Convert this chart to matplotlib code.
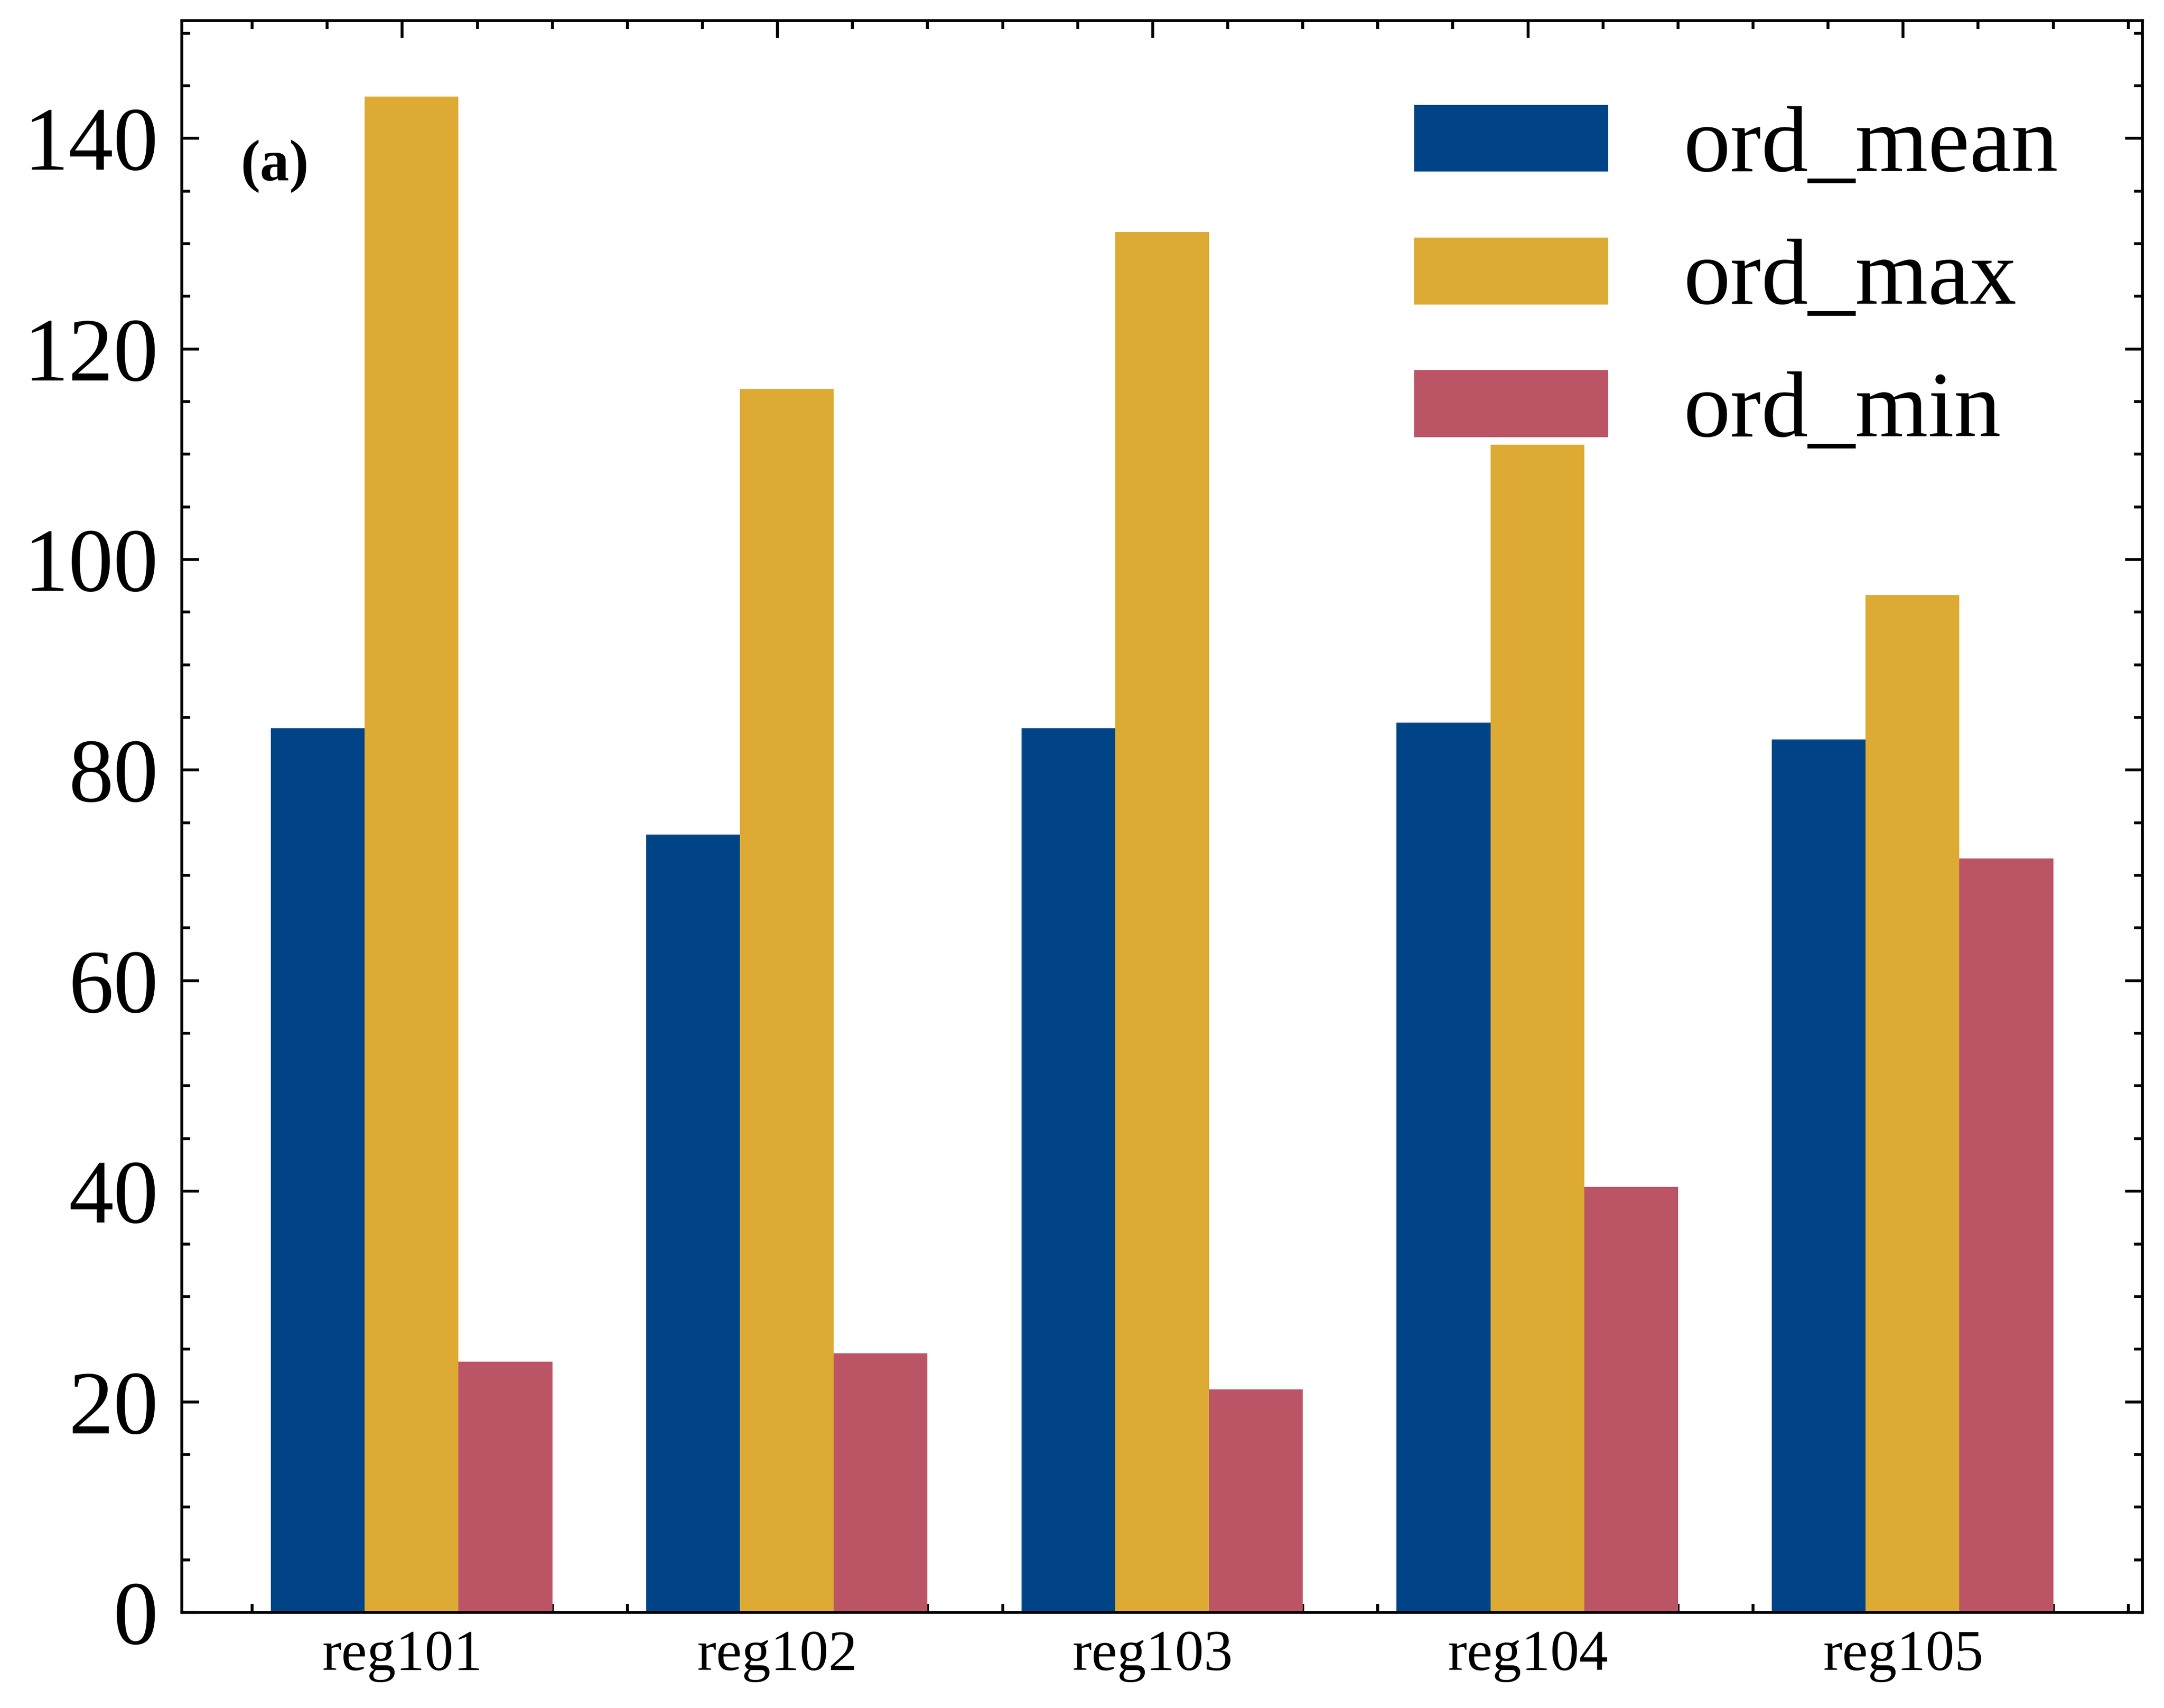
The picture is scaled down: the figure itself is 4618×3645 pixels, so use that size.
import numpy as np
import matplotlib
matplotlib.use("Agg")
import matplotlib.pyplot as plt
from matplotlib.ticker import MultipleLocator

# data
regions = ["reg101", "reg102", "reg103", "reg104", "reg105"]
ord_mean = [84.0, 73.9, 84.0, 84.5, 82.9]
ord_max = [144.0, 116.2, 131.1, 110.9, 96.6]
ord_min = [23.8, 24.6, 21.2, 40.4, 71.6]

series = ["ord_mean", "ord_max", "ord_min"]
colors = ["#004488", "#DDAA33", "#BB5566"]

plt.rcParams["font.family"] = ["Liberation Serif", "DejaVu Serif"]
plt.rcParams["mathtext.fontset"] = "stix"

fig = plt.figure(figsize=(4618 / 600, 3645 / 600), dpi=600)
ax = fig.add_axes([0.084, 0.056, 0.906, 0.932])

x = np.arange(len(regions))
w = 0.25
offsets = [-0.225, 0.025, 0.275]
for vals, off, c, name in zip([ord_mean, ord_max, ord_min], offsets, colors, series):
    ax.bar(x + off, vals, width=w, color=c, label=name)

ax.set_axisbelow(True)
ax.set_xticks(x)
ax.set_xticklabels(regions, fontsize=14.8)
ax.xaxis.set_minor_locator(MultipleLocator(0.2))
ax.yaxis.set_major_locator(MultipleLocator(20))
ax.yaxis.set_minor_locator(MultipleLocator(5))
ax.tick_params(axis="y", labelsize=23, pad=6)
ax.tick_params(axis="x", pad=4.5)
ax.tick_params(which="both", direction="in", top=True, right=True, width=0.75)
ax.tick_params(which="major", length=4.4)
ax.tick_params(which="minor", length=2.2)
for s in ax.spines.values():
    s.set_linewidth(0.75)

ax.text(0.03, 0.925, "(a)", transform=ax.transAxes, fontsize=15,
        fontweight="bold", ha="left", va="top")

ax.legend(loc="upper right", frameon=False, fontsize=24,
          handlelength=2.07, handleheight=0.72)

fig.savefig("out.png", dpi=600)
